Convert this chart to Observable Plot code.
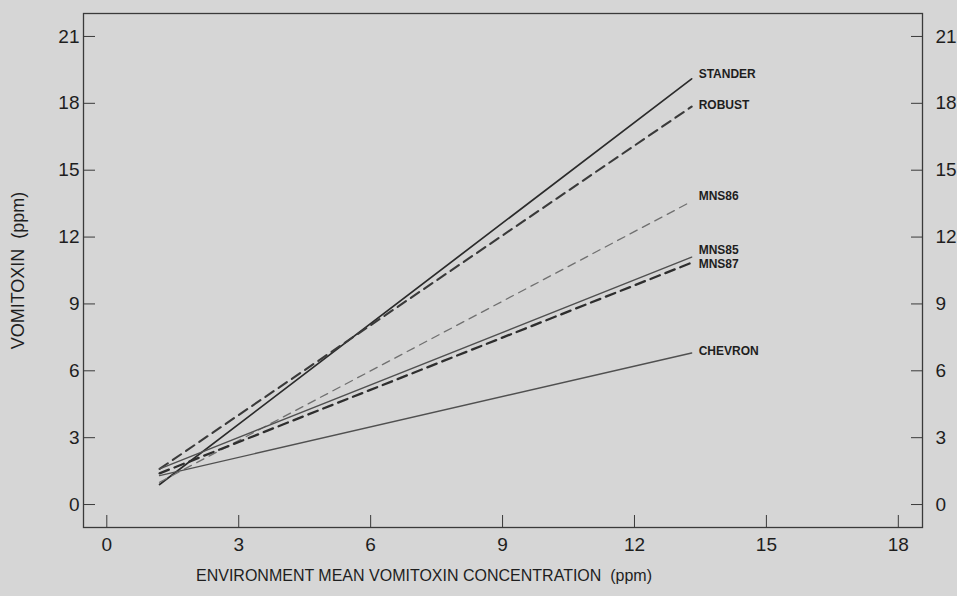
<!DOCTYPE html>
<html><head><meta charset="utf-8">
<script src="https://cdn.jsdelivr.net/npm/d3@7"></script>
<script src="https://cdn.jsdelivr.net/npm/@observablehq/plot@0.6"></script>
<style>
html,body{margin:0;padding:0;background:#d6d6d6;}
#chart svg{display:block;}
#chart svg g[aria-label$="tick label"] text{font-size:19px !important;}
</style></head><body><div id="chart"></div>
<script>
const cultivars = ["STANDER", "ROBUST", "MNS86", "MNS85", "MNS87", "CHEVRON"];
const envMean = [1.2, 13.3];
const startValues = [0.9, 1.6, 1.0, 1.6, 1.4, 1.3];
const endValues = [19.1, 17.85, 13.6, 11.1, 10.85, 6.8];
const labelValues = [19.3, 17.9, 13.85, 11.4, 10.8, 6.9];
const xTicks = [0, 3, 6, 9, 12, 15, 18];
const yTicks = [0, 3, 6, 9, 12, 15, 18, 21];
const xTitle = "ENVIRONMENT MEAN VOMITOXIN CONCENTRATION\u00a0\u00a0(ppm)";
const yTitle = "VOMITOXIN\u00a0\u00a0(ppm)";

const styles = {
  STANDER: {stroke: "#2b2b2b", strokeWidth: 1.7},
  ROBUST: {stroke: "#3a3a3a", strokeWidth: 2.1, strokeDasharray: "10,6"},
  MNS86: {stroke: "#707070", strokeWidth: 1.3, strokeDasharray: "8,6"},
  MNS85: {stroke: "#505050", strokeWidth: 1.4},
  MNS87: {stroke: "#2e2e2e", strokeWidth: 2.3, strokeDasharray: "10,6"},
  CHEVRON: {stroke: "#505050", strokeWidth: 1.4}
};

const rows = cultivars.flatMap((c, i) => [
  {cultivar: c, x: envMean[0], y: startValues[i]},
  {cultivar: c, x: envMean[1], y: endValues[i]}
]);
const labels = cultivars.map((c, i) => ({cultivar: c, x: envMean[1], y: labelValues[i]}));

const font = "'Liberation Sans', Arial, Helvetica, sans-serif";
const chart = Plot.plot({
  width: 957, height: 596,
  marginLeft: 83, marginRight: 35, marginTop: 13, marginBottom: 69,
  style: {background: "#d6d6d6", fontFamily: font, color: "#1e1e1e"},
  x: {domain: [-0.53, 18.55]},
  y: {domain: [-1.03, 22.03]},
  marks: [
    Plot.frame({stroke: "#3a3a3a", strokeWidth: 1.3}),
    Plot.axisX(xTicks, {anchor: "bottom", tickSize: -12, tickPadding: 22, fontSize: 19, label: null, stroke: "#3a3a3a"}),
    Plot.axisY(yTicks, {anchor: "left", tickSize: -12, tickPadding: 16, fontSize: 19, label: null, stroke: "#3a3a3a"}),
    Plot.axisY(yTicks, {anchor: "right", tickSize: -12, tickPadding: 25, fontSize: 19, label: null, stroke: "#3a3a3a"}),
    ...cultivars.map(c => Plot.line(rows.filter(d => d.cultivar === c), {x: "x", y: "y", ...styles[c]})),
    Plot.text(labels, {x: "x", y: "y", text: "cultivar", dx: 7, textAnchor: "start", fontSize: 12, fontWeight: "bold", fill: "#1e1e1e"}),
    Plot.text([xTitle], {frameAnchor: "bottom", dy: 53, dx: -79, fontSize: 16, fill: "#1e1e1e"}),
    Plot.text([yTitle], {frameAnchor: "left", textAnchor: "middle", rotate: -90, dx: -65, fontSize: 18, fill: "#1e1e1e"})
  ]
});
document.getElementById("chart").appendChild(chart);
</script>
</body></html>
